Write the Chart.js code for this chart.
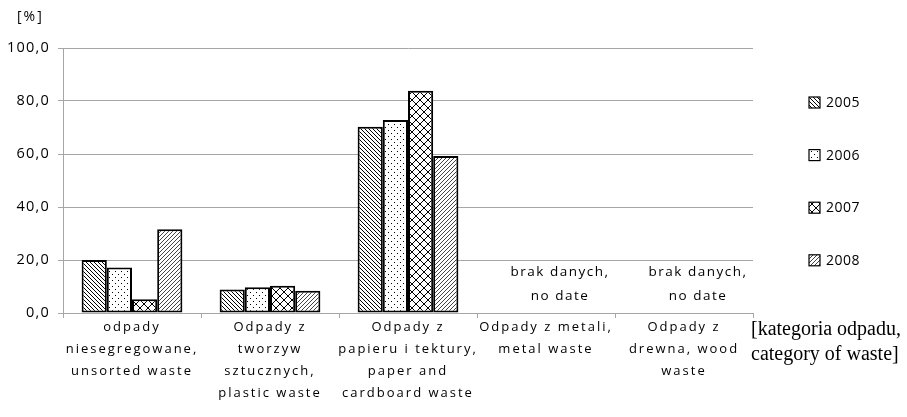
<!DOCTYPE html>
<html>
<head>
<meta charset="utf-8">
<script src="https://cdn.jsdelivr.net/npm/chart.js@4.4.1/dist/chart.umd.min.js"></script>
<style>
  html, body { margin: 0; padding: 0; background: #fff; }
  #wrap { width: 907px; height: 417px; }
</style>
</head>
<body>
<div id="wrap"><canvas id="wasteChart" width="907" height="417"></canvas></div>
<script>
const categories = [
    ['odpady', 'niesegregowane,', 'unsorted waste'],
    ['Odpady z', 'tworzyw', 'sztucznych,', 'plastic waste'],
    ['Odpady z', 'papieru i tektury,', 'paper and', 'cardboard waste'],
    ['Odpady z metali,', 'metal waste'],
    ['Odpady z', 'drewna, wood', 'waste']
];
const years = ['2005', '2006', '2007', '2008'];
const values2005 = [20.0, 8.9, 70.3, null, null];
const values2006 = [17.2, 9.7, 72.8, null, null];
const values2007 = [5.2, 10.3, 83.9, null, null];
const values2008 = [31.6, 8.4, 59.2, null, null];
const noDataText = ['brak danych,', 'no date'];
const unitLabel = '[%]';
const xAxisTitle = ['[kategoria odpadu,', 'category of waste]'];

const GRID = '#a6a6a6';

function makePattern(kind) {
    const size = kind === 'cross' ? 8 : (kind === 'dots' ? 6 : 4);
    const c = document.createElement('canvas');
    c.width = size;
    c.height = size;
    const g = c.getContext('2d');
    g.fillStyle = '#fff';
    g.fillRect(0, 0, size, size);
    g.strokeStyle = kind === 'slash' ? '#444' : '#000';
    g.lineWidth = 1;
    const back = () => {
        g.beginPath();
        g.moveTo(-1, -1); g.lineTo(size + 1, size + 1);
        g.moveTo(size - 1, -1); g.lineTo(size + 1, 1);
        g.moveTo(-1, size - 1); g.lineTo(1, size + 1);
        g.stroke();
    };
    const fwd = () => {
        g.beginPath();
        g.moveTo(-1, size + 1); g.lineTo(size + 1, -1);
        g.moveTo(-1, 1); g.lineTo(1, -1);
        g.moveTo(size - 1, size + 1); g.lineTo(size + 1, size - 1);
        g.stroke();
    };
    if (kind === 'back') back();
    if (kind === 'slash') fwd();
    if (kind === 'cross') { back(); fwd(); }
    if (kind === 'dots') {
        g.fillStyle = '#000';
        g.fillRect(1, 1, 1, 1);
        g.fillRect(4, 4, 1, 1);
    }
    return g.createPattern(c, 'repeat');
}

const patterns = [makePattern('back'), makePattern('dots'), makePattern('cross'), makePattern('slash')];
const seriesValues = [values2005, values2006, values2007, values2008];

// x labels are spread out, y labels (drawn after the bars) less so
const spacingPlugin = {
    id: 'spacing',
    beforeDraw(chart) {
        chart.ctx.letterSpacing = '2px';
    },
    afterDatasetsDraw(chart) {
        chart.ctx.letterSpacing = '1.2px';
    }
};

const extrasPlugin = {
    id: 'extras',
    afterDraw(chart) {
        const ctx = chart.ctx;
        const x = chart.scales.x;
        const y = chart.scales.y;
        const area = chart.chartArea;
        ctx.save();

        // unit label
        ctx.letterSpacing = '2px';
        ctx.fillStyle = '#000';
        ctx.font = "14px 'Open Sans'";
        ctx.textAlign = 'left';
        ctx.textBaseline = 'middle';
        ctx.fillText(unitLabel, 17, 17);

        // no data notes
        ctx.letterSpacing = '1.5px';
        ctx.font = "13.5px 'Open Sans'";
        ctx.textAlign = 'center';
        categories.forEach((cat, i) => {
            const empty = seriesValues.every(s => s[i] == null);
            if (!empty) return;
            const cx = x.getPixelForValue(i) + 14;
            ctx.fillText(noDataText[0], cx, y.getPixelForValue(15.3));
            ctx.fillText(noDataText[1], cx, y.getPixelForValue(6.3));
        });

        // legend
        ctx.letterSpacing = '0.5px';
        ctx.textAlign = 'left';
        ctx.font = "14px 'Open Sans'";
        chart.data.datasets.forEach((ds, i) => {
            const cy = 103 + i * 52.6;
            ctx.fillStyle = ds.backgroundColor;
            ctx.fillRect(809, cy - 6, 11, 11);
            ctx.strokeStyle = '#000';
            ctx.lineWidth = 1.2;
            ctx.strokeRect(809, cy - 6, 11, 11);
            ctx.fillStyle = '#000';
            ctx.fillText(ds.label, 826, cy);
        });

        // axis title
        ctx.letterSpacing = '0px';
        ctx.font = "20px 'Liberation Serif'";
        ctx.fillText(xAxisTitle[0], 751, area.bottom + 17);
        ctx.fillText(xAxisTitle[1], 751, area.bottom + 42);
        ctx.restore();
    }
};

new Chart(document.getElementById('wasteChart').getContext('2d'), {
    type: 'bar',
    data: {
        labels: categories,
        datasets: years.map((yr, i) => ({
            label: yr,
            data: seriesValues[i],
            backgroundColor: patterns[i],
            borderColor: '#000',
            borderWidth: 2,
            borderSkipped: false,
            barPercentage: 1,
            categoryPercentage: 0.73
        }))
    },
    options: {
        responsive: false,
        animation: false,
        layout: { padding: { top: 48, right: 154, left: 0, bottom: 0 } },
        plugins: {
            legend: { display: false },
            tooltip: { enabled: false }
        },
        scales: {
            x: {
                afterFit: s => { s.height = 104; },
                grid: {
                    offset: true,
                    drawOnChartArea: false,
                    color: GRID,
                    tickLength: 5
                },
                border: { color: GRID },
                ticks: {
                    autoSkip: false,
                    maxRotation: 0,
                    minRotation: 0,
                    padding: -2,
                    color: '#000',
                    font: { family: "'Open Sans'", size: 13, lineHeight: 1.7 }
                }
            },
            y: {
                min: 0,
                max: 100,
                afterFit: s => { s.width = 63; },
                grid: { color: GRID, tickLength: 5 },
                border: { color: GRID },
                ticks: {
                    z: 1,
                    stepSize: 20,
                    padding: 8,
                    color: '#000',
                    font: { family: "'Open Sans'", size: 14.5 },
                    callback: v => v.toFixed(1).replace('.', ',')
                }
            }
        }
    },
    plugins: [spacingPlugin, extrasPlugin]
});
</script>
</body>
</html>
